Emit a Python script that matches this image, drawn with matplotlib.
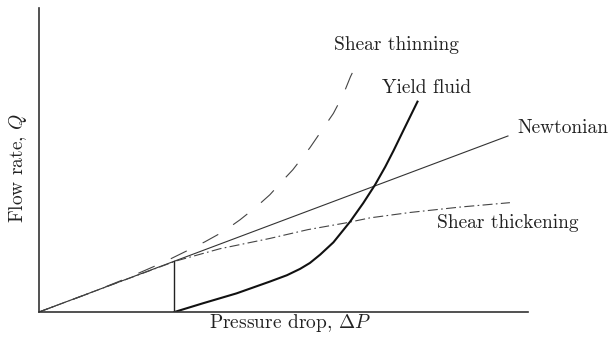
import numpy as np
import matplotlib
matplotlib.use("Agg")
import matplotlib.pyplot as plt

plt.rcParams['font.family'] = ['cmr10', 'DejaVu Serif']
plt.rcParams['mathtext.fontset'] = 'cm'
plt.rcParams['axes.formatter.use_mathtext'] = True

# valeurs (unites arbitraires)
newton_x = [0.0, 9.59]
newton_y = [0.0, 3.59]

thin_x = [0.0, 1.0, 1.8, 2.54, 3.05, 3.39, 3.77, 4.11, 4.45, 4.72, 5.03, 5.19,
          5.54, 6.02, 6.22, 6.37, 6.55]
thin_y = [0.0, 0.37, 0.69, 1.01, 1.26, 1.43, 1.64, 1.88, 2.15, 2.39, 2.73, 2.90,
          3.35, 4.05, 4.43, 4.80, 5.17]

thick_x = [0.0, 1.5, 2.8, 3.7, 4.72, 5.5, 6.29, 6.77, 7.59, 8.61, 9.63]
thick_y = [0.0, 0.56, 1.04, 1.29, 1.50, 1.68, 1.82, 1.92, 2.03, 2.14, 2.23]

yield_x = [2.77, 3.36, 4.04, 4.72, 5.07, 5.34, 5.54, 5.75, 6.02, 6.36, 6.63,
           6.87, 7.08, 7.25, 7.45, 7.74]
yield_y = [0.0, 0.18, 0.38, 0.62, 0.75, 0.88, 1.00, 1.17, 1.42, 1.84, 2.22,
           2.59, 2.96, 3.29, 3.70, 4.29]

tau_x = 2.76
tau_y = 1.03

fig = plt.figure(figsize=(6.08, 3.39), dpi=100)
ax = fig.add_axes([39 / 608, 27 / 339, 489 / 608, 304 / 339])

ax.plot(newton_x, newton_y, color='#333333', lw=0.8)
ax.plot(thin_x, thin_y, color='#444444', lw=0.8, linestyle=(0, (16, 16)))
ax.plot(thick_x, thick_y, color='#444444', lw=0.8, linestyle=(0, (9, 3, 1.5, 3)))
ax.plot(yield_x, yield_y, color='#111111', lw=1.5)
ax.plot([tau_x, tau_x], [0, tau_y], color='#222222', lw=1.0)

ax.text(7.30, 5.45, 'Shear thinning', fontsize=14, color='#222222', ha='center', va='center')
ax.text(7.93, 4.57, 'Yield fluid', fontsize=14, color='#222222', ha='center', va='center')
ax.text(9.78, 3.76, 'Newtonian', fontsize=14, color='#222222', ha='left', va='center')
ax.text(8.13, 1.82, 'Shear thickening', fontsize=14, color='#222222', ha='left', va='center')

ax.set_xlim(0, 10)
ax.set_ylim(0, 6.2)
ax.set_xticks([])
ax.set_yticks([])
for s in ['top', 'right']:
    ax.spines[s].set_visible(False)
for s in ['left', 'bottom']:
    ax.spines[s].set_linewidth(1.2)
    ax.spines[s].set_color('#333333')

ax.text(0.513, -0.036, r'Pressure drop, $\Delta P$', transform=ax.transAxes,
        fontsize=14, ha='center', va='center', color='#222222')
ax.text(-0.043, 0.474, r'Flow rate, $Q$', transform=ax.transAxes,
        fontsize=14, ha='center', va='center', rotation=90, color='#222222')

fig.savefig('out.png', dpi=100)
